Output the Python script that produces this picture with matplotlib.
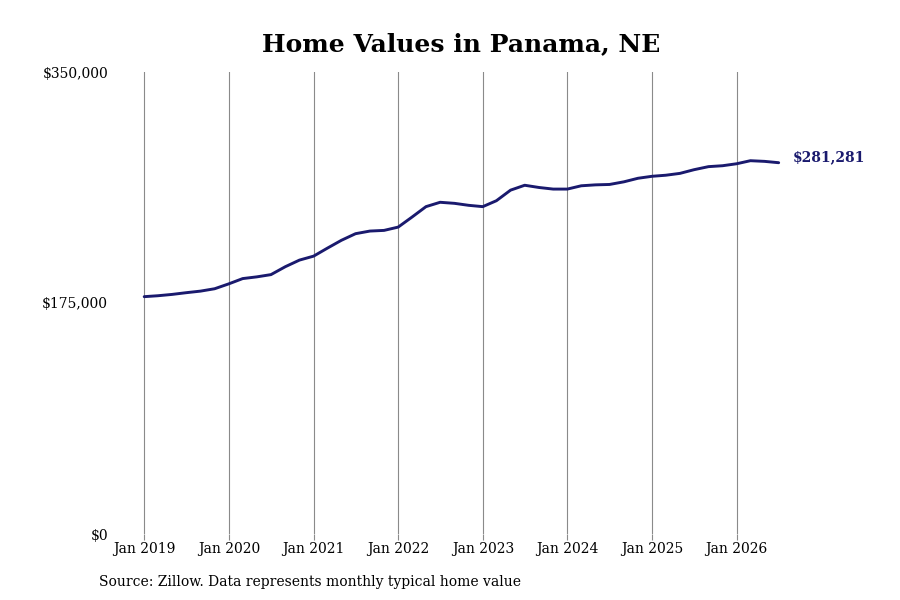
"""Home values line chart for Panama, NE."""

from datetime import datetime

import matplotlib

matplotlib.use("Agg")
import matplotlib.dates as mdates
import matplotlib.pyplot as plt
from matplotlib.ticker import FuncFormatter

months = [
    "2019-01", "2019-03", "2019-05", "2019-07", "2019-09", "2019-11",
    "2020-01", "2020-03", "2020-05", "2020-07", "2020-09", "2020-11",
    "2021-01", "2021-03", "2021-05", "2021-07", "2021-09", "2021-11",
    "2022-01", "2022-03", "2022-05", "2022-07", "2022-09", "2022-11",
    "2023-01", "2023-03", "2023-05", "2023-07", "2023-09", "2023-11",
    "2024-01", "2024-03", "2024-05", "2024-07", "2024-09", "2024-11",
    "2025-01", "2025-03", "2025-05", "2025-07", "2025-09", "2025-11",
    "2026-01", "2026-03", "2026-05", "2026-07",
]
home_values = [
    179800, 180500, 181500, 182800, 184000, 185800,
    189500, 193500, 194800, 196500, 202500, 207500,
    210500, 216500, 222500, 227500, 229500, 230000,
    232500, 240000, 248000, 251300, 250500, 249000,
    248000, 252500, 260500, 264200, 262500, 261300,
    261300, 263800, 264500, 264800, 266800, 269500,
    271000, 271800, 273200, 276000, 278300, 279000,
    280500, 282800, 282300, 281281,
]
tick_years = list(range(2019, 2027))
y_ticks = [0, 175000, 350000]

NAVY = "#1a1a6e"
plt.rcParams["font.family"] = ["DejaVu Serif"]

dates = [datetime.strptime(m, "%Y-%m") for m in months]

fig = plt.figure(figsize=(9, 6), dpi=100)
ax = fig.add_axes([115 / 900, 66 / 600, 685 / 900, 462 / 600])

ax.plot(dates, home_values, color=NAVY, linewidth=2.1,
        solid_capstyle="round", solid_joinstyle="round")

ax.set_xlim(datetime(2018, 8, 28), datetime(2026, 10, 1))
ax.set_ylim(0, 350000)

ax.set_xticks([datetime(y, 1, 1) for y in tick_years])
ax.xaxis.set_major_formatter(mdates.DateFormatter("Jan %Y"))
ax.set_yticks(y_ticks)
ax.yaxis.set_major_formatter(FuncFormatter(lambda v, _: f"${v:,.0f}"))

ax.grid(axis="x", color="#8a8a8a", linewidth=0.8)
ax.grid(axis="y", visible=False)
for spine in ax.spines.values():
    spine.set_visible(False)
ax.tick_params(axis="x", length=4, color="#8a8a8a", labelsize=10, pad=2)
ax.tick_params(axis="y", length=0, labelsize=10, pad=5)

ax.annotate(
    f"${home_values[-1]:,.0f}",
    xy=(dates[-1], home_values[-1]),
    xytext=(10, 4),
    textcoords="offset points",
    color=NAVY,
    fontsize=10,
    fontweight="bold",
    va="center",
    ha="left",
    annotation_clip=False,
)

fig.text(0.512, 1 - 44 / 600, "Home Values in Panama, NE",
         ha="center", va="center", fontsize=18, fontweight="bold")
fig.text(99 / 900, 1 - 582 / 600, "Source: Zillow. Data represents monthly typical home value",
         ha="left", va="center", fontsize=10)

fig.savefig("out.png", dpi=100)
plt.close(fig)
